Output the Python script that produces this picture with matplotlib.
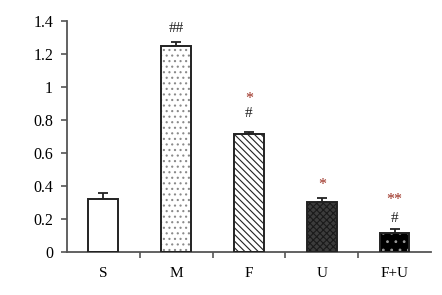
import matplotlib
matplotlib.use("Agg")
import matplotlib.pyplot as plt
from matplotlib.ticker import FixedLocator, NullFormatter

categories = ["S", "M", "F", "U", "F+U"]
values = [0.323, 1.248, 0.712, 0.305, 0.115]
errors = [0.033, 0.025, 0.012, 0.022, 0.025]
y_ticks = [0, 0.2, 0.4, 0.6, 0.8, 1, 1.2, 1.4]
y_labels = ["0", "0.2", "0.4", "0.6", "0.8", "1", "1.2", "1.4"]
# significance marks per category: (text, kind)
marks = [[], [("##", "h")], [("#", "h"), ("*", "s")], [("*", "s")], [("#", "h"), ("**", "s")]]
# offsets (points) of each mark above its error bar
mark_offsets = [[], [9.4], [13.7, 23.7], [9.4], [7.2, 20.9]]

plt.rcParams["font.family"] = ["Liberation Serif", "DejaVu Serif"]
plt.rcParams["hatch.linewidth"] = 0.8
axis_col = "#555555"

fig = plt.figure(figsize=(4.42, 2.95), dpi=100)
ax = fig.add_axes([0.1516, 0.1458, 0.8234, 0.7842])

x = list(range(len(categories)))
w = 0.41
styles = [
    dict(facecolor="white", hatch=None, hcol="black"),
    dict(facecolor="white", hatch="...", hcol="#8a8a8a"),
    dict(facecolor="white", hatch="\\\\\\\\\\", hcol="#222222"),
    dict(facecolor="#3c3c3c", hatch="xxxxx", hcol="#1a1a1a"),
    dict(facecolor="black", hatch="..", hcol="#9a9a9a"),
]
for xi, v, e, st in zip(x, values, errors, styles):
    ax.bar(xi, v, width=w, color=st["facecolor"], edgecolor="none", zorder=2)
    if st["hatch"]:
        ax.bar(xi, v, width=w, color="none", edgecolor=st["hcol"], hatch=st["hatch"],
               linewidth=0, zorder=3)
    ax.bar(xi, v, width=w, color="none", edgecolor="#222222", linewidth=1.4, zorder=4)
    ax.errorbar(xi, v + e / 2, yerr=e / 2, fmt="none", ecolor="#222222",
                elinewidth=1.3, capsize=3.5, capthick=1.3, zorder=1)

for xi, v, e, ms, offs in zip(x, values, errors, marks, mark_offsets):
    top = v + e
    for (txt, kind), off in zip(ms, offs):
        col = "#9b2d20" if kind == "s" else "#222222"
        fs = 11 if kind == "h" else 11.5
        ax.annotate(txt, (xi, top), xytext=(0, off), textcoords="offset points",
                    ha="center", va="center", fontsize=fs, color=col)

ax.set_xlim(-0.5, len(categories) - 0.5)
ax.set_ylim(0, 1.4)
ax.set_yticks(y_ticks)
ax.set_yticklabels(y_labels, fontsize=11.5)
ax.set_xticks(x)
ax.set_xticklabels(categories, fontsize=11)
ax.xaxis.set_minor_locator(FixedLocator([i + 0.5 for i in x[:-1]]))
ax.xaxis.set_minor_formatter(NullFormatter())
ax.tick_params(axis="x", which="major", length=0, pad=10.5)
ax.tick_params(axis="x", which="minor", length=4, width=1.2, color=axis_col, direction="out")
ax.tick_params(axis="y", length=4, width=1.2, color=axis_col, direction="out", pad=6)

for s in ["top", "right"]:
    ax.spines[s].set_visible(False)
for s in ["left", "bottom"]:
    ax.spines[s].set_color(axis_col)
    ax.spines[s].set_linewidth(1.3)

fig.savefig("out.png", dpi=100)
